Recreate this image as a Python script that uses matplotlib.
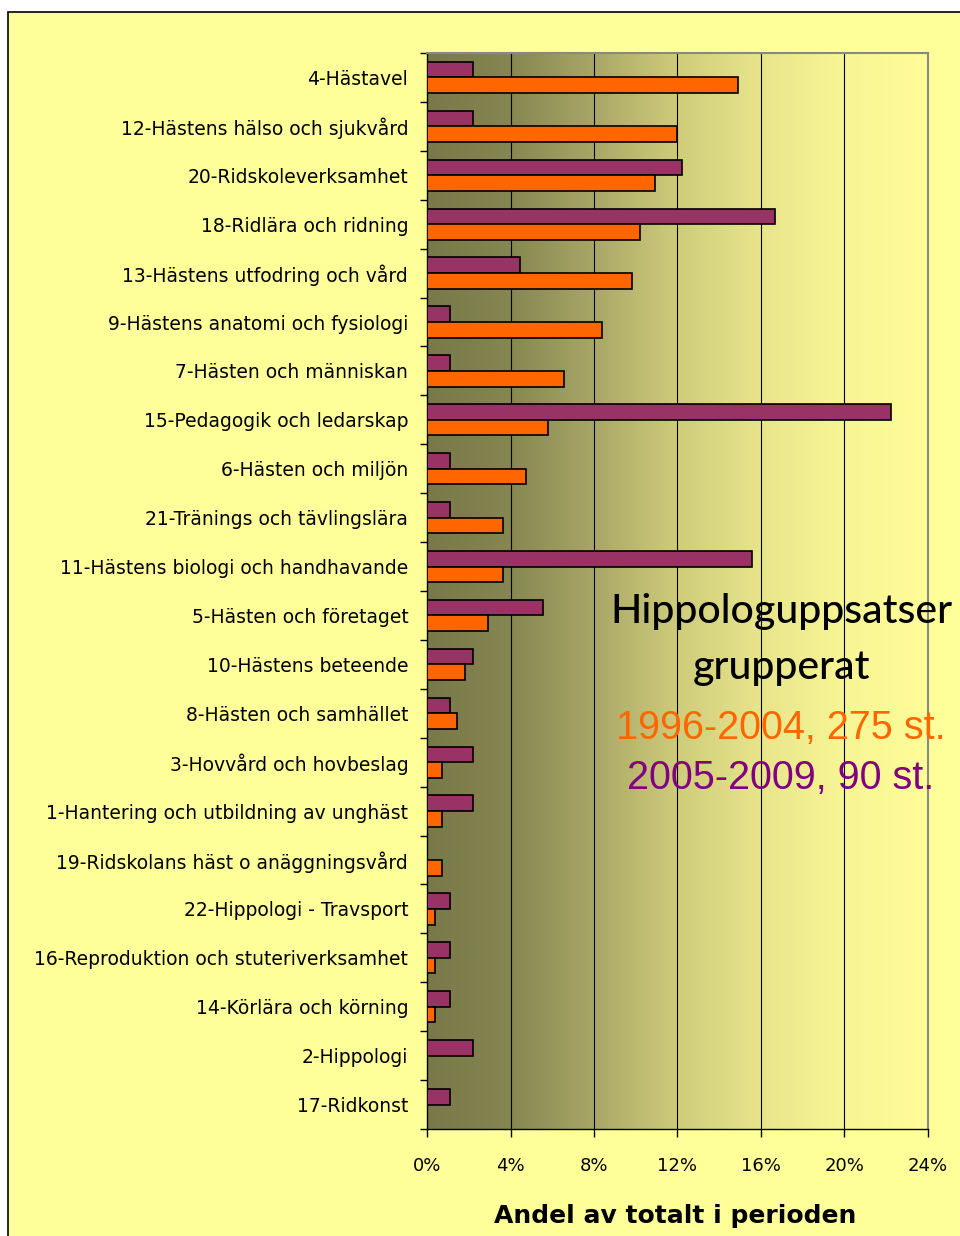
import numpy as np
import matplotlib
matplotlib.use("Agg")
import matplotlib.pyplot as plt
from matplotlib.colors import LinearSegmentedColormap
from matplotlib.patches import Rectangle

kategorier = [
    "4-Hästavel",
    "12-Hästens hälso och sjukvård",
    "20-Ridskoleverksamhet",
    "18-Ridlära och ridning",
    "13-Hästens utfodring och vård",
    "9-Hästens anatomi och fysiologi",
    "7-Hästen och människan",
    "15-Pedagogik och ledarskap",
    "6-Hästen och miljön",
    "21-Tränings och tävlingslära",
    "11-Hästens biologi och handhavande",
    "5-Hästen och företaget",
    "10-Hästens beteende",
    "8-Hästen och samhället",
    "3-Hovvård och hovbeslag",
    "1-Hantering och utbildning av unghäst",
    "19-Ridskolans häst o anäggningsvård",
    "22-Hippologi - Travsport",
    "16-Reproduktion och stuteriverksamhet",
    "14-Körlära och körning",
    "2-Hippologi",
    "17-Ridkonst",
]

# andel i procent, 1996-2004 (275 st.)
period_1996_2004 = [14.91, 12.00, 10.91, 10.18, 9.82, 8.36, 6.55, 5.82, 4.73, 3.64, 3.64,
                    2.91, 1.82, 1.45, 0.73, 0.73, 0.73, 0.36, 0.36, 0.36, 0.0, 0.0]
# andel i procent, 2005-2009 (90 st.)
period_2005_2009 = [2.22, 2.22, 12.22, 16.67, 4.44, 1.11, 1.11, 22.22, 1.11, 1.11, 15.56,
                    5.56, 2.22, 1.11, 2.22, 2.22, 0.0, 1.11, 1.11, 1.11, 2.22, 1.11]

xticks = [0, 4, 8, 12, 16, 20, 24]
xticklabels = ["0%", "4%", "8%", "12%", "16%", "20%", "24%"]

bg = "#FFFF99"
fig = plt.figure(figsize=(9.6, 12.36), dpi=100)
fig.patch.set_facecolor("white")
# ram runt diagrammet
fig.patches.append(Rectangle((8 / 960, -0.05), 1.2, 1 - 12 / 1236 + 0.05,
                             transform=fig.transFigure, facecolor=bg,
                             edgecolor="black", linewidth=1.2, zorder=-10))

ax = fig.add_axes([427 / 960, 1 - 1129 / 1236, 501 / 960, 1076 / 1236])

# gradient i plotytan
cmap = LinearSegmentedColormap.from_list("olive", [
    (0.0, (0.47, 0.47, 0.29)),
    (0.17, (0.53, 0.53, 0.32)),
    (0.33, (0.66, 0.65, 0.40)),
    (0.5, (0.81, 0.80, 0.48)),
    (0.67, (0.91, 0.90, 0.55)),
    (0.83, (0.97, 0.96, 0.58)),
    (1.0, (1.0, 0.99, 0.60)),
])
grad = np.linspace(0, 1, 256).reshape(1, -1)
ax.imshow(grad, cmap=cmap, aspect="auto", extent=[0, 24, 21.5, -0.5], zorder=0)

y = np.arange(len(kategorier))
h = 0.32
ax.barh(y - h / 2, period_2005_2009, height=h, color="#993366",
        edgecolor="black", linewidth=1.2, zorder=3)
ax.barh(y + h / 2, period_1996_2004, height=h, color="#FF6600",
        edgecolor="black", linewidth=1.2, zorder=3)

ax.set_xlim(0, 24)
ax.set_ylim(21.5, -0.5)
ax.set_xticks(xticks)
ax.set_xticklabels(xticklabels, fontsize=13, family="DejaVu Sans")
for xv in xticks[1:-1]:
    ax.axvline(xv, color="black", linewidth=0.8, zorder=1)

ax.set_yticks(y)
ax.set_yticklabels(kategorier, fontsize=13.5, family="DejaVu Sans")
ax.tick_params(axis="y", which="major", length=0, pad=13.5)
ax.set_yticks(np.arange(-0.5, 22, 1), minor=True)
ax.tick_params(axis="y", which="minor", length=5, width=1)
ax.tick_params(axis="x", length=6, width=1, pad=14)

for s in ["top", "right"]:
    ax.spines[s].set_color("#888888")
    ax.spines[s].set_linewidth(1.5)
for s in ["left", "bottom"]:
    ax.spines[s].set_color("black")
    ax.spines[s].set_linewidth(1)

ax.set_xlabel("Andel av totalt i perioden", fontsize=18, fontweight="bold",
              family="DejaVu Sans")
ax.xaxis.label.set_va("center")
ax.xaxis.set_label_coords((675 - 427) / 501, (1129 - 1216) / 1076)

cx = 781 / 960
fig.text(cx, 1 - 612 / 1236, "Hippologuppsatser", fontsize=29.5, ha="center",
         va="center", family="Lato", fontweight="medium", color="black")
fig.text(cx, 1 - 668 / 1236, "grupperat", fontsize=29.5, ha="center",
         va="center", family="Lato", fontweight="medium", color="black")
fig.text(cx, 1 - 728 / 1236, "1996-2004, 275 st.", fontsize=28.5, ha="center",
         va="center", family="Liberation Sans", color="#FF6600")
fig.text(cx, 1 - 778 / 1236, "2005-2009, 90 st.", fontsize=28.5, ha="center",
         va="center", family="Liberation Sans", color="#800080")

fig.savefig("out.png", dpi=100)
